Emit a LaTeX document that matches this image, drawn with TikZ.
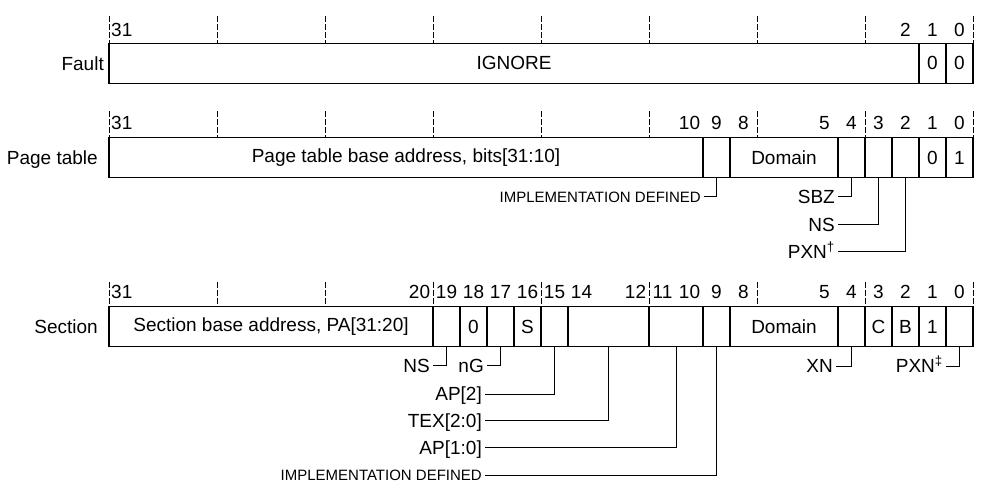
\documentclass[tikz,border=0pt]{standalone}
\usepackage{fontspec}
\setmainfont{Liberation Sans}
\newcommand{\bigtext}{\fontsize{19bp}{22bp}\selectfont}
\newcommand{\smalltext}{\fontsize{15bp}{18bp}\selectfont}

\tikzstyle{field} = [rectangle, draw=black, line width=1.4bp, minimum height=40bp, inner sep=0pt, font=\bigtext]
\tikzstyle{rowname} = [anchor=east, inner sep=0pt, text height=13.6bp, text depth=0pt, font=\bigtext]
\tikzstyle{bitnum} = [inner sep=0pt, font=\bigtext]
\tikzstyle{leader} = [anchor=east, inner sep=0pt, inner xsep=3bp, text height=13.6bp, text depth=0pt, font=\bigtext]
\tikzstyle{tick} = [line width=0.8bp, dash pattern=on 6bp off 2bp]
\tikzstyle{line} = [line width=1bp]

\begin{document}
\begin{tikzpicture}[x=1bp, y=-1bp]
\useasboundingbox (0,0) rectangle (983,491);

% dashed bit ticks
\foreach \k in {0,...,8} {
  \draw [tick] ({109+108*\k},16) -- ({109+108*\k},43.3);
  \draw [tick] ({109+108*\k},111) -- ({109+108*\k},137.7);
  \draw [tick] ({109+108*\k},282) -- ({109+108*\k},306.7);
}

% Fault
\node (fault) [rowname] at (104,63.3) {Fault};
\node (f31) [field, minimum width=810bp] at (514,63.3) {IGNORE};
\node (f1) [field, minimum width=27bp] at (932.5,63.3) {0};
\node (f0) [field, minimum width=27bp] at (959.5,63.3) {0};
\node (fb31) [bitnum, anchor=west] at (111,30) {31};
\foreach \b in {2,1,0} \node (fb\b) [bitnum] at ({959.5-27*\b},30) {\b};

% Page table
\node (page) [rowname] at (98,157.7) {Page table};
\node (p31) [field, minimum width=594bp] at (406,157.7) {Page table base address, bits[31:10]};
\node (p9) [field, minimum width=27bp] at (716.5,157.7) {};
\node (p8) [field, minimum width=108bp] at (784,157.7) {Domain};
\node (p4) [field, minimum width=27bp] at (851.5,157.7) {};
\node (p3) [field, minimum width=27bp] at (878.5,157.7) {};
\node (p2) [field, minimum width=27bp] at (905.5,157.7) {};
\node (p1) [field, minimum width=27bp] at (932.5,157.7) {0};
\node (p0) [field, minimum width=27bp] at (959.5,157.7) {1};
\node (pb31) [bitnum, anchor=west] at (111,123.3) {31};
\foreach \b in {10,9,8,5,4,3,2,1,0} \node (pb\b) [bitnum] at ({959.5-27*\b},123.3) {\b};

\node (pimp) [leader, font=\smalltext, text height=10.8bp] at (704,196.7) {IMPLEMENTATION DEFINED};
\node (psbz) [leader] at (838,196.7) {SBZ};
\node (pns) [leader] at (838,225) {NS};
\node (ppxn) [leader] at (838,251.7) {PXN\textsuperscript{†}};

\draw [line] (p9.south) |- (pimp.east);
\draw [line] (p4.south) |- (psbz.east);
\draw [line] (p3.south) |- (pns.east);
\draw [line] (p2.south) |- (ppxn.east);

% Section
\node (sect) [rowname] at (98,326.7) {Section};
\node (s31) [field, minimum width=324bp] at (271,326.7) {Section base address, PA[31:20]};
\node (s19) [field, minimum width=27bp] at (446.5,326.7) {};
\node (s18) [field, minimum width=27bp] at (473.5,326.7) {0};
\node (s17) [field, minimum width=27bp] at (500.5,326.7) {};
\node (s16) [field, minimum width=27bp] at (527.5,326.7) {S};
\node (s15) [field, minimum width=27bp] at (554.5,326.7) {};
\node (s14) [field, minimum width=81bp] at (608.5,326.7) {};
\node (s11) [field, minimum width=54bp] at (676,326.7) {};
\node (s9) [field, minimum width=27bp] at (716.5,326.7) {};
\node (s8) [field, minimum width=108bp] at (784,326.7) {Domain};
\node (s4) [field, minimum width=27bp] at (851.5,326.7) {};
\node (s3) [field, minimum width=27bp] at (878.5,326.7) {C};
\node (s2) [field, minimum width=27bp] at (905.5,326.7) {B};
\node (s1) [field, minimum width=27bp] at (932.5,326.7) {1};
\node (s0) [field, minimum width=27bp] at (959.5,326.7) {};
\node (sb31) [bitnum, anchor=west] at (111,291.7) {31};
\foreach \b in {20,19,18,17,16,15,14,12,11,10,9,8,5,4,3,2,1,0} \node (sb\b) [bitnum] at ({959.5-27*\b},291.7) {\b};

\node (sns) [leader] at (433,365.5) {NS};
\node (sng) [leader] at (487,365.5) {nG};
\node (sap2) [leader] at (485,394) {AP[2]};
\node (stex) [leader] at (485,420.7) {TEX[2:0]};
\node (sap10) [leader] at (485,447.7) {AP[1:0]};
\node (simp) [leader, font=\smalltext, text height=10.8bp] at (485,475) {IMPLEMENTATION DEFINED};
\node (sxn) [leader] at (836,366) {XN};
\node (spxn) [leader] at (946,366) {PXN\textsuperscript{‡}};

\draw [line] (s19.south) |- (sns.east);
\draw [line] (s17.south) |- (sng.east);
\draw [line] (s15.south) |- (sap2.east);
\draw [line] (s14.south) |- (stex.east);
\draw [line] (s11.south) |- (sap10.east);
\draw [line] (s9.south) |- (simp.east);
\draw [line] (s4.south) |- (sxn.east);
\draw [line] (s0.south) |- (spxn.east);

\end{tikzpicture}
\end{document}
